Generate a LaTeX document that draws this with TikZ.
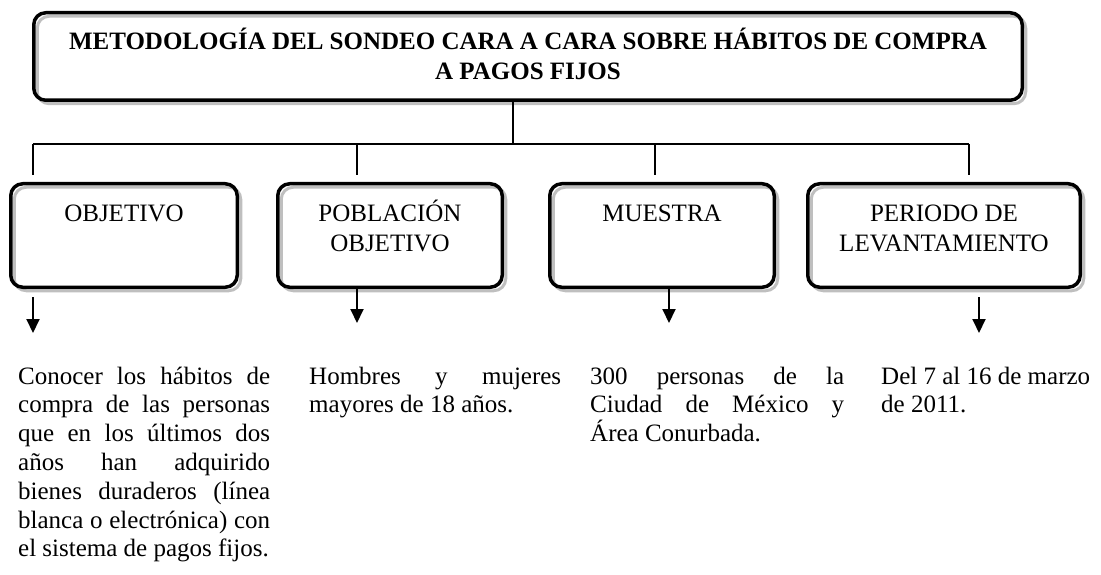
\documentclass[tikz,border=0pt]{standalone}
\usepackage{fontspec}
\setmainfont{Liberation Serif}
\usetikzlibrary{arrows.meta,calc}
\definecolor{shade}{HTML}{BFBFBF}
\newcommand{\jl}[1]{\makebox[\linewidth][s]{#1}\par}
\newcommand{\tstrut}{\rule{0pt}{24pt}}
\newcommand{\boxtxt}[2]{\parbox[t][103.5pt][t]{#1}{\centering\fontsize{25}{30}\selectfont\vspace*{14.25pt}\tstrut #2}}
\begin{document}
\begin{tikzpicture}[x=1pt,y=-1pt,
  frame/.style={draw=black, line width=3.5pt, rounded corners=12pt, inner sep=0pt,
    preaction={draw=shade, line width=3pt, transform canvas={shift={(3.5pt,-3.5pt)}}}},
  conn/.style={line width=1.8pt},
  arr/.style={line width=2pt, -{Triangle[width=13pt,length=14pt]}},
  body/.style={inner sep=0pt, anchor=base west}]

\useasboundingbox (0,0) rectangle (1101,575);

\node[frame] (title) at (528,56.5) {\parbox[t][87.5pt][t]{988.5pt}{\centering\fontsize{25}{30}\selectfont\bfseries\vspace*{13.25pt}\tstrut METODOLOGÍA DEL SONDEO CARA A CARA SOBRE HÁBITOS DE COMPRA\\ A PAGOS FIJOS}};

\node[frame] (b1) at (124,235.5) {\boxtxt{226.5pt}{OBJETIVO}};
\node[frame] (b2) at (390,235.5) {\boxtxt{224.5pt}{POBLACIÓN\\ OBJETIVO}};
\node[frame] (b3) at (662,235.5) {\boxtxt{224.5pt}{MUESTRA}};
\node[frame] (b4) at (944,235.5) {\boxtxt{272.5pt}{PERIODO DE\\ LEVANTAMIENTO}};

\coordinate (hub) at (513,144);
\coordinate (j1) at (33,144);
\coordinate (j2) at (357,144);
\coordinate (j3) at (655,144);
\coordinate (j4) at (969,144);
\draw[conn] (title.south -| hub) -- (hub);
\draw[conn] (j1) -- (j4);
\draw[conn, shorten >=7pt] (j1) -- (j1 |- b1.north);
\draw[conn, shorten >=7pt] (j2) -- (j2 |- b2.north);
\draw[conn, shorten >=7pt] (j3) -- (j3 |- b3.north);
\draw[conn, shorten >=7pt] (j4) -- (j4 |- b4.north);

\node[body] (x1) at (18,384) {\parbox[t]{252pt}{\fontsize{25}{28.8}\selectfont
\jl{Conocer los hábitos de}
\jl{compra de las personas}
\jl{que en los últimos dos}
\jl{años han adquirido}
\jl{bienes duraderos (línea}
\jl{blanca o electrónica) con}
el sistema de pagos fijos.}};
\node[body] (x2) at (309,384) {\parbox[t]{252pt}{\fontsize{25}{28.8}\selectfont
\jl{Hombres y mujeres}
mayores de 18 años.}};
\node[body] (x3) at (590,384) {\parbox[t]{254pt}{\fontsize{25}{28.8}\selectfont
\jl{300 personas de la}
\jl{Ciudad de México y}
Área Conurbada.}};
\node[body] (x4) at (881,384) {\parbox[t]{215pt}{\fontsize{25}{28.8}\selectfont
Del 7 al 16 de marzo\par
de 2011.}};

\coordinate (t1) at (33,333);
\coordinate (t2) at (357,323);
\coordinate (t3) at (669,323);
\coordinate (t4) at (979,333);
\draw[arr] ($(b1.south -| t1)+(0,8)$) -- (t1);
\draw[arr] (b2.south -| t2) -- (t2);
\draw[arr] (b3.south -| t3) -- (t3);
\draw[arr] ($(b4.south -| t4)+(0,8)$) -- (t4);
\end{tikzpicture}
\end{document}
